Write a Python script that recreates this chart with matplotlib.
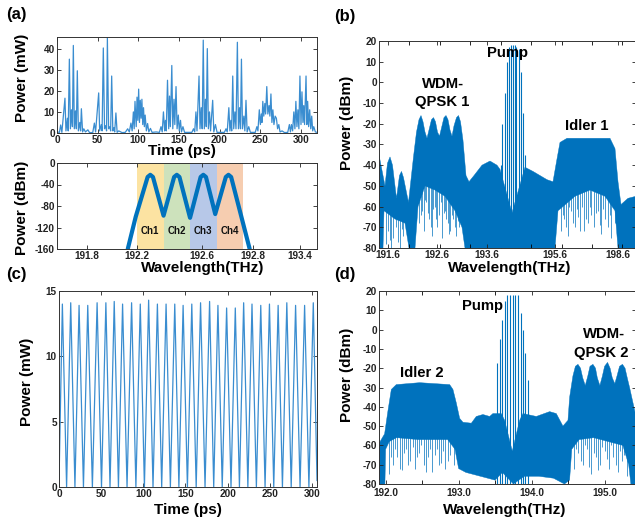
import numpy as np
import matplotlib
matplotlib.use("Agg")
import matplotlib.pyplot as plt

plt.rcParams['font.family'] = ['Liberation Sans', 'DejaVu Sans']
plt.rcParams['font.weight'] = 'bold'
plt.rcParams['axes.unicode_minus'] = False

BLUE = '#0072BD'

# ---------------- (a) top: time trace (ps, mW) ----------------
a_t = [0, 3, 4.5, 6, 9.8, 11, 12.8, 13.8, 15.2, 16.5, 17.8, 19, 20.1, 21.3, 22.7, 23.8, 25, 26.3, 28, 29, 30, 31.5, 33, 35, 38, 40,
       44, 46, 47.5, 51.3, 52.5, 54.5, 55.5, 57, 58.5, 60, 61, 62, 63.5, 65, 66, 67.3, 68.7, 70, 71, 72.5, 74, 76, 80,
       84, 87, 89, 91, 92.5, 94, 95, 96, 97.5, 98.5, 99.5, 100.5, 101.5, 102.5, 103.5, 104.5, 105.5, 106.5, 107.5, 108.5, 110, 111.5, 113, 115, 117, 122,
       126, 128, 129.5, 131, 132.5, 133.5, 134.5, 136, 137.5, 138.5, 139.5, 141.3, 142.5, 144, 145, 146.5, 147.8, 149.3, 150.5, 152, 153.2, 155, 157, 162,
       166, 168, 169.5, 171, 172.3, 174.8, 176, 177.5, 178.7, 180, 181.3, 182.7, 183.7, 185, 186.3, 187.7, 189, 191.6, 193, 195, 197, 202,
       206, 208, 209.5, 211.5, 212.8, 214, 215, 216.3, 217.5, 219, 220.3, 222, 223.3, 224.7, 225.8, 227, 228.3, 230, 231.2, 232.6, 234, 236, 238, 242,
       244, 246, 247.3, 249, 250.3, 251.5, 252.3, 253.3, 254.5, 255.8, 256.8, 258.2, 259.5, 261, 262, 263.3, 264.5, 265.7, 267, 268.5, 270, 271.5, 273, 274.5, 277, 280,
       284, 286, 287.3, 288.5, 290, 291.5, 292.8, 294, 295.3, 296.5, 297.7, 299, 300.3, 301.5, 302.7, 303.7, 304.7, 306.5, 307.5, 308.5, 309.7, 311, 312.3, 313.5, 314.7, 316, 318, 320]
a_p = [0.5, 0.3, 3.8, 0.3, 16.5, 1, 7, 1, 35, 2, 11, 3, 41.5, 2, 10.5, 2, 29.5, 1, 5, 1, 11.5, 0.5, 2, 0.5, 1.5, 0.2,
       0.2, 4.7, 0.5, 19, 1, 4, 1, 40.3, 2, 3.5, 1, 45, 2, 3, 1, 27, 1, 2.5, 0.5, 9.5, 0.3, 1, 0.2,
       0.3, 2, 0.5, 4.7, 1, 10, 2, 15, 3, 17, 6, 20.8, 5, 15.5, 7, 16, 4, 12, 3, 8.5, 1, 4.5, 0.5, 2.2, 0.3, 0.5,
       0.3, 3, 0.5, 10, 1, 6, 1, 25, 2, 17.5, 3, 32, 2, 16, 4, 22, 2, 8.5, 1, 6, 0.5, 3, 0.3, 0.3,
       0.3, 2, 0.5, 10, 1, 27, 2, 12, 2, 44, 2, 16, 3, 40, 2, 10, 1, 15.5, 0.5, 4, 0.3, 0.3,
       0.3, 2, 0.5, 12, 1, 6, 1, 27, 2, 10, 2, 43, 2, 12, 2, 35, 2, 8, 1, 15.5, 0.5, 3, 0.3, 0.3,
       0.3, 3, 1, 11, 4, 9, 5, 15, 8, 14, 9, 22, 9, 13, 8, 18.5, 5, 11, 4, 8, 7, 2, 4, 0.5, 1, 0.2,
       0.3, 4, 0.5, 4, 1, 10, 2, 15, 3, 11, 2, 27, 4, 19.5, 5, 13, 4, 27, 4, 15, 3, 11, 2, 8, 1, 3, 0.5, 0.3]

# ---------------- (a) bottom: WDM spectrum (THz, dBm) ----------------
ch_names = ['Ch1', 'Ch2', 'Ch3', 'Ch4']
ch_edges = [192.2, 192.4, 192.6, 192.8, 193.0]
ch_colors = ['#FCE3A2', '#CDE2BC', '#B7C8E8', '#F6CDB0']
wdm_f = [192.13, 192.19, 192.28, 192.30, 192.32, 192.40, 192.48, 192.50, 192.52, 192.60,
         192.68, 192.70, 192.72, 192.79, 192.87, 192.89, 192.91, 193.05]
wdm_p = [-160, -100, -26, -22, -26, -98, -26, -22, -26, -102,
         -26, -22, -26, -95, -26, -22, -26, -160]
a2_tick_pos = [191.822, 192.2, 192.69, 193.075, 193.43]
a2_tick_lab = ['191.8', '192.2', '192.6', '192.8', '193.4']

# ---------------- (b) spectrum envelope (THz, dBm) ----------------
b_up_f = [191.42, 191.54, 191.59, 191.64, 191.69, 191.77, 191.83, 191.87, 191.91, 192.01, 192.11, 192.17, 192.22, 192.26, 192.30,
          192.34, 192.38, 192.42, 192.47, 192.51, 192.55, 192.59, 192.63, 192.67, 192.72, 192.76, 192.80, 192.84, 192.88, 192.92,
          192.97, 193.01, 193.05, 193.10, 193.16, 193.22, 193.32, 193.48, 193.64, 193.78, 193.84, 194.08, 194.34, 194.50, 194.64,
          194.78, 194.90, 194.98, 195.04, 195.18, 195.58, 196.04, 196.14, 196.20, 196.26, 196.40, 196.56]
b_up_p = [-35, -50, -39, -36, -40, -56, -45, -43, -46, -58, -36, -24, -18, -16, -19,
          -24, -27, -23, -18, -17, -19, -24, -26, -22, -17, -16, -18, -23, -26, -21,
          -17, -16, -19, -28, -45, -48, -45, -40, -38, -40, -42, -63, -41, -43, -45,
          -47, -48, -37, -29, -27, -27, -27, -32, -48, -59, -56, -55]
b_lo_f = [191.42, 191.50, 191.52, 191.74, 191.94, 192.02, 192.14, 192.20, 192.34, 192.54, 192.74, 192.94, 193.08, 193.14,
          194.94, 195.00, 195.34, 195.64, 195.94, 196.14, 196.20, 196.56]
b_lo_p = [-80, -80, -62, -66, -68, -80, -80, -60, -50, -52, -55, -62, -70, -80,
          -80, -62, -55, -52, -55, -62, -80, -80]
# noise spikes hanging below the envelope (position, lowest level)
b_spk_f = [191.56, 191.60, 191.63, 191.66, 191.70, 191.75, 191.79, 191.83, 191.87, 191.90,
           192.22, 192.25, 192.27, 192.31, 192.34, 192.36, 192.40, 192.42, 192.45, 192.47, 192.50, 192.53, 192.56, 192.58,
           192.62, 192.65, 192.68, 192.71, 192.73, 192.76, 192.79, 192.82, 192.84, 192.87, 192.90, 192.93, 192.96, 193.00, 193.02,
           195.05, 195.09, 195.12, 195.16, 195.20, 195.23, 195.26, 195.30, 195.33, 195.37, 195.40, 195.44, 195.47, 195.52, 195.56,
           195.60, 195.63, 195.66, 195.72, 195.76, 195.80, 195.83, 195.86, 195.90, 195.93, 196.00, 196.04, 196.07, 196.13]
b_spk_p = [-78, -72, -76, -80, -75, -70, -77, -80, -71, -74,
           -68, -64, -62, -72, -57, -58, -63, -66, -70, -74, -61, -60, -66, -70,
           -64, -58, -75, -63, -62, -66, -68, -73, -72, -64, -66, -70, -74, -67, -70,
           -72, -64, -66, -70, -74, -60, -62, -68, -70, -61, -65, -72, -60, -72, -66,
           -68, -60, -64, -70, -63, -62, -69, -73, -61, -66, -70, -64, -75, -68]
b_spk_top = [-60] * 10 + [-45] * 29 + [-45] * 29
b_pump_f = [193.85, 193.89, 193.93, 193.97, 194.01, 194.05, 194.09, 194.13, 194.17, 194.21, 194.25, 194.29, 194.33]
b_pump_p = [-40, -20, -5, 10, 17, 18, 18, 18, 17, 16, 5, -15, -35]
b_tick_pos = [191.6, 192.58, 193.58, 194.94, 196.2]
b_tick_lab = ['191.6', '192.6', '193.6', '195.6', '198.6']
b_minor = [192.02, 192.63, 193.24, 193.85, 194.46, 195.07, 195.68, 196.29]

# ---------------- (c) pulse train (ps, mW) ----------------
c_peak_t = [4.0, 13.9, 23.8, 34.1, 45.2, 55.6, 65.5, 75.4, 86.1, 96.4, 106.3, 116.7, 127.0, 137.3, 147.2,
            157.5, 167.9, 178.6, 188.5, 198.8, 209.1, 219.0, 228.9, 239.3, 249.6, 259.9, 270.2, 280.6, 291.3, 301.6]
c_peak_p = [14.0, 14.1, 13.9, 13.9, 14.1, 14.1, 14.2, 14.0, 14.1, 14.0, 14.3, 14.0, 14.0, 14.0, 13.9,
            14.0, 14.1, 14.2, 13.9, 13.7, 13.7, 14.1, 14.0, 13.9, 14.0, 13.9, 14.1, 13.9, 13.9, 14.1]
c_trough_t = [0.0, 9.0, 18.9, 29.0, 39.6, 50.4, 60.5, 70.5, 80.7, 91.2, 101.3, 111.5, 121.8, 132.1, 142.2,
              152.3, 162.7, 173.2, 183.5, 193.6, 204.0, 214.0, 224.0, 234.1, 244.4, 254.7, 265.0, 275.4, 285.9, 296.4, 306.0]
c_trough_p = [0.3] + [0.0] * 29 + [0.5]

# ---------------- (d) spectrum envelope (THz, dBm) ----------------
d_up_f = [191.909, 191.986, 192.032, 192.078, 192.146, 192.466, 192.877, 192.922, 192.968, 193.014, 193.059, 193.174,
          193.242, 193.333, 193.425, 193.470, 193.584, 193.630, 193.735, 193.836, 193.881, 194.064, 194.247, 194.338,
          194.429, 194.498, 194.521, 194.566, 194.600, 194.635, 194.670, 194.700, 194.735, 194.770, 194.800, 194.840,
          194.875, 194.900, 194.935, 194.970, 195.000, 195.040, 195.075, 195.105, 195.140, 195.170, 195.205, 195.245,
          195.280, 195.310, 195.342, 195.43]
d_up_p = [-59, -54, -42, -31, -28.5, -27.5, -28.5, -31, -38, -46, -48, -48.5,
          -45, -44, -45, -43.5, -43.5, -47, -63, -47, -43.5, -45, -42.5, -43.5,
          -50, -47, -35, -24, -19, -18, -20, -25, -29, -24, -19, -18,
          -20, -25, -29, -24, -19, -17, -20, -25, -28, -24, -19, -18,
          -20, -25, -30, -45]
d_lo_f = [191.909, 191.99, 192.00, 192.05, 192.15, 192.45, 192.85, 192.95, 193.00, 193.10, 193.30, 193.50, 193.60,
          193.75, 193.90, 194.10, 194.30, 194.45, 194.52, 194.55, 194.65, 194.85, 195.05, 195.25, 195.33, 195.36, 195.43]
d_lo_p = [-80, -80, -62, -58, -56, -57, -57, -62, -72, -74, -76, -78, -74,
          -80, -76, -76, -77, -80, -78, -62, -57, -56, -58, -60, -70, -80, -80]
d_spk_f = [192.04, 192.07, 192.10, 192.13, 192.16, 192.19, 192.22, 192.25, 192.28, 192.31, 192.34, 192.37, 192.40, 192.43,
           192.46, 192.49, 192.52, 192.55, 192.58, 192.61, 192.64, 192.67, 192.70, 192.73, 192.76, 192.79, 192.82, 192.85,
           192.88, 192.93,
           194.58, 194.61, 194.64, 194.67, 194.70, 194.73, 194.76, 194.79, 194.82, 194.85, 194.88, 194.91, 194.94, 194.97,
           195.00, 195.03, 195.06, 195.09, 195.12, 195.15, 195.18, 195.21, 195.24, 195.27, 195.30]
d_spk_p = [-75, -66, -70, -62, -66, -72, -73, -64, -62, -70, -68, -61, -72, -66,
           -64, -60, -70, -74, -66, -62, -74, -65, -62, -70, -69, -63, -72, -68,
           -65, -70,
           -72, -62, -64, -68, -70, -60, -62, -71, -75, -64, -66, -73, -70, -61,
           -63, -67, -72, -60, -66, -70, -74, -63, -68, -65, -76]
d_spk_top = [-45] * 55
d_pump_f = [193.525, 193.562, 193.598, 193.635, 193.667, 193.703, 193.740, 193.776, 193.813, 193.849, 193.881, 193.913, 193.950]
d_pump_p = [-17.5, -5, 5, 15, 18, 18, 18, 18, 18, 8.5, 0, -12, -26]
d_ticks = [192.0, 193.0, 194.0, 195.0]
d_minor = [192.5, 193.5, 194.5]

W, H = 635, 523
fig = plt.figure(figsize=(W / 100, H / 100), dpi=100)


def rect(x0, y0, x1, y1):
    return [x0 / W, 1 - y1 / H, (x1 - x0) / W, (y1 - y0) / H]


def ftext(x, y, s, **kw):
    fig.text(x / W, 1 - y / H, s, ha='center', va='center', fontweight='bold', **kw)


TICK_FS = 7.2
LAB_FS = 11


def style(ax):
    ax.tick_params(direction='in', top=True, right=True, length=3, width=0.6,
                   labelsize=TICK_FS, pad=1.5, colors='#222222')
    ax.tick_params(which='minor', direction='in', top=True, right=True, length=3, width=0.6)
    for s in ax.spines.values():
        s.set_linewidth(0.7)
        s.set_color('#333333')
    for lab in ax.get_xticklabels() + ax.get_yticklabels():
        lab.set_fontweight('bold')


# (a) top
ax1 = fig.add_axes(rect(57, 37, 317, 133))
ax1.plot(a_t, a_p, color='#3a8dd0', lw=0.9)
ax1.set_xlim(0, 320)
ax1.set_ylim(0, 45.5)
ax1.set_xticks([0, 50, 100, 150, 200, 250, 300])
ax1.set_yticks([0, 10, 20, 30, 40])
style(ax1)

# (a) bottom
ax2 = fig.add_axes(rect(57, 163, 317, 249))
for i, name in enumerate(ch_names):
    ax2.axvspan(ch_edges[i], ch_edges[i + 1], color=ch_colors[i], lw=0, zorder=0)
    ax2.text((ch_edges[i] + ch_edges[i + 1]) / 2, -126, name, ha='center', va='center',
             fontsize=7, fontweight='bold', color='#111111')
ax2.plot(wdm_f, wdm_p, color=BLUE, lw=3.0, solid_joinstyle='round', solid_capstyle='round', zorder=3)
ax2.set_xlim(191.596, 193.558)
ax2.set_ylim(-160, 0)
ax2.set_xticks(a2_tick_pos)
ax2.set_xticklabels(a2_tick_lab)
ax2.set_yticks([0, -40, -80, -120, -160])
style(ax2)

# (b)
axb = fig.add_axes(rect(379, 41, 636, 248))
axb.fill(np.concatenate([b_up_f, b_lo_f[::-1]]), np.concatenate([b_up_p, b_lo_p[::-1]]),
         color=BLUE, lw=0.3, ec=BLUE)
axb.vlines(b_spk_f, b_spk_p, b_spk_top, colors=BLUE, lw=0.5)
axb.vlines(b_pump_f, -80, b_pump_p, colors=BLUE, lw=0.8)
axb.set_xlim(191.42, 196.56)
axb.set_ylim(-80, 20)
axb.set_xticks(b_tick_pos)
axb.set_xticklabels(b_tick_lab)
axb.set_xticks(b_minor, minor=True)
axb.set_yticks(np.arange(-80, 21, 10))
style(axb)
axb.text(194.0, 14, 'Pump', ha='center', va='center', fontsize=10.7, fontweight='bold')
axb.text(192.7, -1, 'WDM-', ha='center', va='center', fontsize=10.7, fontweight='bold')
axb.text(192.68, -9.7, 'QPSK 1', ha='center', va='center', fontsize=10.7, fontweight='bold')
axb.text(195.57, -21, 'Idler 1', ha='center', va='center', fontsize=10.7, fontweight='bold')

# (c)
axc = fig.add_axes(rect(59, 291, 317, 487))
c_t = np.array(c_trough_t + c_peak_t)
c_p = np.array(c_trough_p + c_peak_p)
order = np.argsort(c_t)
axc.plot(c_t[order], c_p[order], color='#3a8dd0', lw=0.9)
axc.set_xlim(0, 306)
axc.set_ylim(0, 15)
axc.set_xticks([0, 50, 100, 150, 200, 250, 300])
axc.set_yticks([0, 5, 10, 15])
style(axc)

# (d)
axd = fig.add_axes(rect(379, 291, 636, 484))
axd.fill(np.concatenate([d_up_f, d_lo_f[::-1]]), np.concatenate([d_up_p, d_lo_p[::-1]]),
         color=BLUE, lw=0.3, ec=BLUE)
axd.vlines(d_spk_f, d_spk_p, d_spk_top, colors=BLUE, lw=0.5)
axd.vlines(d_pump_f, -80, d_pump_p, colors=BLUE, lw=0.8)
axd.set_xlim(191.909, 195.43)
axd.set_ylim(-80, 20)
axd.set_xticks(d_ticks)
axd.set_xticklabels([f'{v:.1f}' for v in d_ticks])
axd.set_xticks(d_minor, minor=True)
axd.set_yticks(np.arange(-80, 21, 10))
style(axd)
axd.tick_params(axis='x', pad=3)
axd.text(193.33, 12, 'Pump', ha='center', va='center', fontsize=10.7, fontweight='bold')
axd.text(194.99, -2.5, 'WDM-', ha='center', va='center', fontsize=10.7, fontweight='bold')
axd.text(194.95, -12, 'QPSK 2', ha='center', va='center', fontsize=10.7, fontweight='bold')
axd.text(192.5, -22.5, 'Idler 2', ha='center', va='center', fontsize=10.7, fontweight='bold')

# axis labels and panel tags
ftext(21.7, 78, 'Power (mW)', rotation=90, fontsize=LAB_FS)
ftext(182, 151, 'Time (ps)', fontsize=LAB_FS)
ftext(21.7, 208, 'Power (dBm)', rotation=90, fontsize=LAB_FS)
ftext(203, 268, 'Wavelength(THz)', fontsize=LAB_FS)
ftext(346.7, 123, 'Power (dBm)', rotation=90, fontsize=LAB_FS)
ftext(510, 268, 'Wavelength(THz)', fontsize=LAB_FS)
ftext(26.7, 382, 'Power (mW)', rotation=90, fontsize=LAB_FS)
ftext(187.5, 510, 'Time (ps)', fontsize=LAB_FS)
ftext(347.5, 375, 'Power (dBm)', rotation=90, fontsize=LAB_FS)
ftext(504.7, 510, 'Wavelength(THz)', fontsize=LAB_FS)

ftext(16.7, 15, '(a)', fontsize=12)
ftext(345, 16.7, '(b)', fontsize=12)
ftext(16.7, 275, '(c)', fontsize=12)
ftext(345, 275, '(d)', fontsize=12)

fig.savefig('out.png', dpi=100)
